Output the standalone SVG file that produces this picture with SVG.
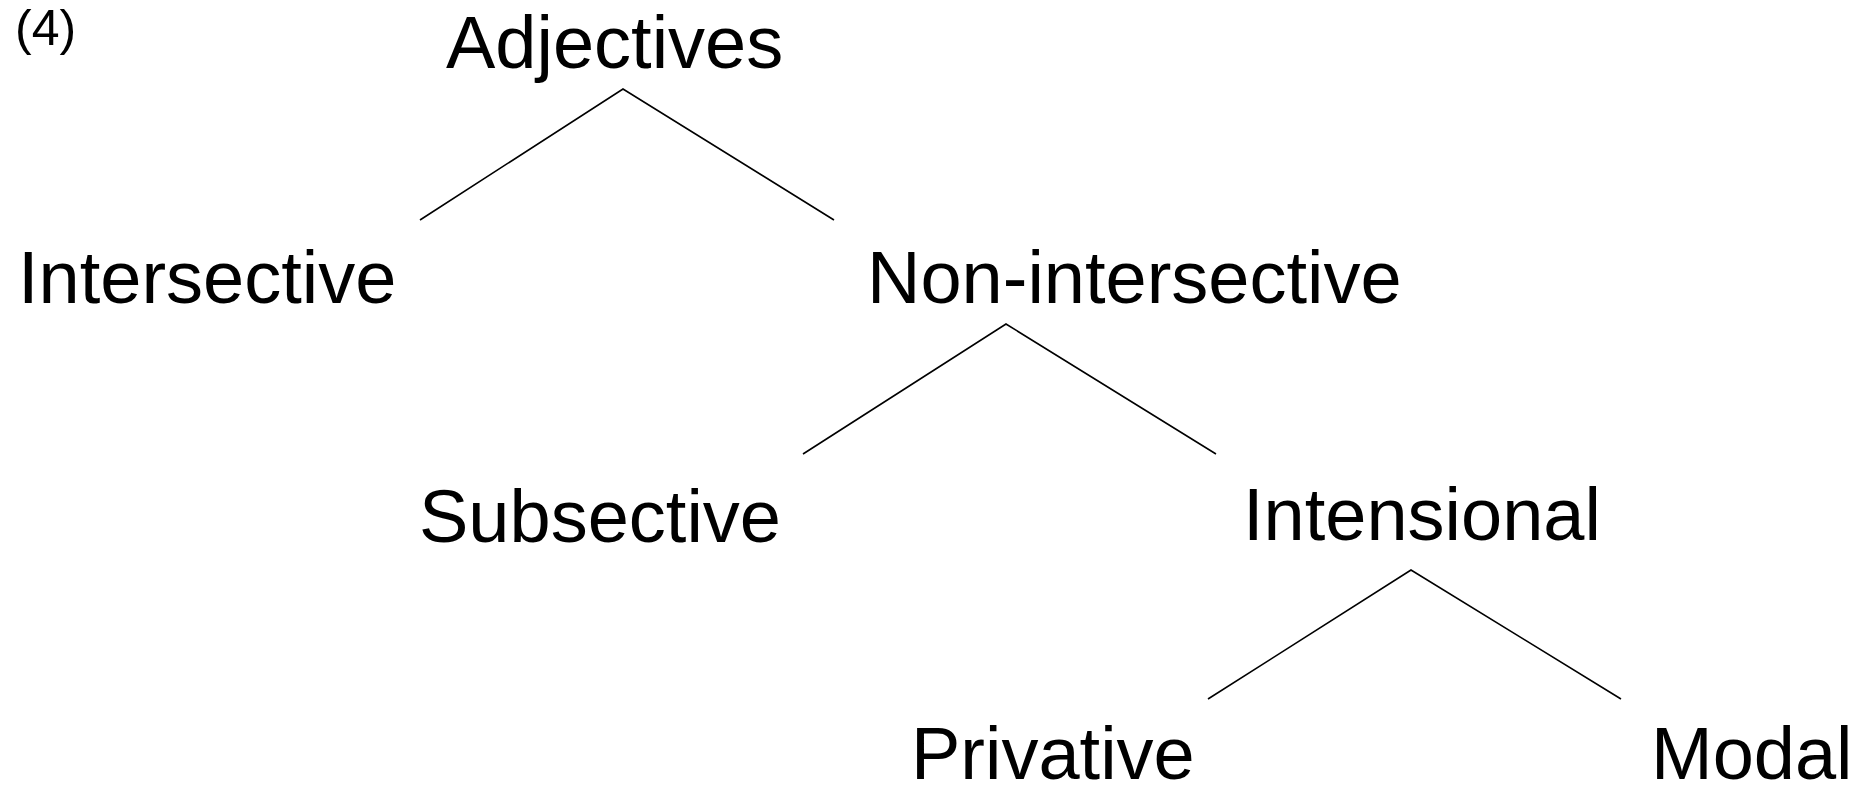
<svg xmlns="http://www.w3.org/2000/svg" width="1865" height="795" viewBox="0 0 1865 795">
<style>
.t{font-family:"Liberation Sans",Arial,sans-serif;font-size:74px;fill:#000}
.n{font-family:"Liberation Sans",Arial,sans-serif;font-size:50px;fill:#000}
.e{stroke:#000;stroke-width:1.6;fill:none}
</style>
<rect width="1865" height="795" fill="#fff"/>
<text class="n" x="15" y="45">(4)</text>
<g id="adjectives"><text class="t" x="446" y="68">Adjectives</text></g>
<g id="intersective"><text class="t" x="18" y="303">Intersective</text></g>
<g id="nonintersective"><text class="t" x="867" y="303">Non-intersective</text></g>
<g id="subsective"><text class="t" x="419" y="542">Subsective</text></g>
<g id="intensional"><text class="t" x="1243" y="540">Intensional</text></g>
<g id="privative"><text class="t" x="911" y="779">Privative</text></g>
<g id="modal"><text class="t" x="1651" y="779">Modal</text></g>
<g id="connectors">
<polyline class="e" points="420,220 623,89 834,220"/>
<polyline class="e" points="803,454 1006,324 1216,454"/>
<polyline class="e" points="1208,699 1411,570 1621,699"/>
</g>
</svg>
